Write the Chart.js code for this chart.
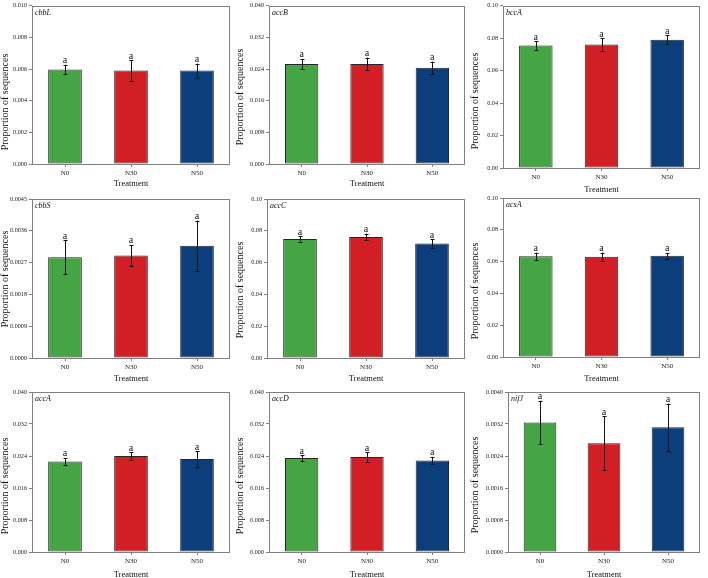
<!DOCTYPE html>
<html>
<head>
<meta charset="utf-8">
<script src="https://cdn.jsdelivr.net/npm/chart.js@4.4.0/dist/chart.umd.min.js"></script>
<style>
  html, body { margin: 0; padding: 0; background: #fff; overflow: hidden; }
  #wrap { position: relative; width: 708px; height: 578px; }
  #wrap canvas { position: absolute; }
</style>
</head>
<body>
<div id="wrap"></div>
<script>
// --- data ---
const treatments = ['N0', 'N30', 'N50'];
const barColors = ['#45a545', '#d21e25', '#0b3e7b'];
const letters = ['a', 'a', 'a'];

const cbbLMean = [0.00597, 0.00591, 0.00590];
const cbbLErr  = [0.00030, 0.00065, 0.00044];
const accBMean = [0.0253, 0.0253, 0.0243];
const accBErr  = [0.00125, 0.0016, 0.0016];
const bccAMean = [0.0755, 0.0761, 0.0790];
const bccAErr  = [0.0026, 0.0040, 0.0028];
const cbbSMean = [0.00285, 0.00290, 0.00318];
const cbbSErr  = [0.00048, 0.00030, 0.00071];
const accCMean = [0.0748, 0.0761, 0.0720];
const accCErr  = [0.0017, 0.0022, 0.0026];
const acsAMean = [0.0633, 0.0630, 0.0637];
const acsAErr  = [0.0023, 0.0027, 0.0018];
const accAMean = [0.02265, 0.0240, 0.02325];
const accAErr  = [0.00088, 0.00095, 0.00195];
const accDMean = [0.0235, 0.02375, 0.0229];
const accDErr  = [0.0007, 0.00125, 0.0009];
const nifJMean = [0.00324, 0.00272, 0.00312];
const nifJErr  = [0.00054, 0.00068, 0.00059];

const geneNames = ['cbbL', 'accB', 'bccA', 'cbbS', 'accC', 'acsA', 'accA', 'accD', 'nifJ'];
const geneMeans = [cbbLMean, accBMean, bccAMean, cbbSMean, accCMean, acsAMean, accAMean, accDMean, nifJMean];
const geneErrs  = [cbbLErr, accBErr, bccAErr, cbbSErr, accCErr, acsAErr, accAErr, accDErr, nifJErr];

// y axis ticks
const yMaxes    = [0.010, 0.040, 0.10, 0.0045, 0.10, 0.10, 0.040, 0.040, 0.0040];
const ySteps    = [0.002, 0.008, 0.02, 0.0009, 0.02, 0.02, 0.008, 0.008, 0.0008];
const yDecimals = [3, 3, 2, 4, 2, 2, 3, 3, 4];

// --- panel placement (canvas box + wanted plot area, page px) ---
const panelBoxes = [
  { left: 0,   top: 0,   width: 235, L: 32,  T: 5,   R: 230, B: 164, tx: 184, ty: 102 },
  { left: 235, top: 0,   width: 235, L: 269, T: 5,   R: 465, B: 164, tx: 184, ty: 97 },
  { left: 470, top: 0,   width: 238, L: 503, T: 5,   R: 700, B: 168, tx: 190, ty: 101 },
  { left: 0,   top: 192, width: 235, L: 32,  T: 199, R: 230, B: 358, tx: 379, ty: 279 },
  { left: 235, top: 192, width: 235, L: 267, T: 199, R: 465, B: 358, tx: 379, ty: 290 },
  { left: 470, top: 192, width: 238, L: 503, T: 198, R: 700, B: 357, tx: 379, ty: 291 },
  { left: 0,   top: 385, width: 235, L: 32,  T: 392, R: 230, B: 552, tx: 575, ty: 486 },
  { left: 235, top: 385, width: 235, L: 269, T: 392, R: 465, B: 552, tx: 575, ty: 486 },
  { left: 470, top: 385, width: 238, L: 508, T: 392, R: 700, B: 552, tx: 575, ty: 485 }
];

const SERIF = "'Liberation Serif', 'DejaVu Serif', serif";
const FRAME = '#808080';

// error bars, letters, frame, gene name and y title
function makeExtras(idx, box) {
  return {
    id: 'extras' + idx,
    afterDatasetsDraw(chart) {
      const ctx = chart.ctx;
      const y = chart.scales.y;
      const area = chart.chartArea;
      const meta = chart.getDatasetMeta(0);
      const mean = geneMeans[idx];
      const err = geneErrs[idx];
      ctx.save();

      ctx.strokeStyle = FRAME;
      ctx.lineWidth = 1;
      ctx.strokeRect(Math.round(area.left) + 0.5, Math.round(area.top) + 0.5,
        Math.round(area.right - area.left) - 1, Math.round(area.bottom - area.top));

      meta.data.forEach((bar, i) => {
        const x = Math.round(bar.x) + 0.5;
        const hi = y.getPixelForValue(mean[i] + err[i]);
        const lo = y.getPixelForValue(mean[i] - err[i]);
        ctx.strokeStyle = '#111';
        ctx.lineWidth = 1;
        ctx.beginPath();
        ctx.moveTo(x, hi); ctx.lineTo(x, lo);
        ctx.moveTo(x - 2, Math.round(hi) + 0.5); ctx.lineTo(x + 2, Math.round(hi) + 0.5);
        ctx.moveTo(x - 2, Math.round(lo) + 0.5); ctx.lineTo(x + 2, Math.round(lo) + 0.5);
        ctx.stroke();

        ctx.fillStyle = '#111';
        ctx.font = '10px ' + SERIF;
        ctx.textAlign = 'center';
        ctx.textBaseline = 'alphabetic';
        ctx.fillText(letters[i], bar.x, hi - 1.5);
      });

      ctx.fillStyle = '#111';
      ctx.font = 'italic 8px ' + SERIF;
      ctx.textAlign = 'left';
      ctx.textBaseline = 'top';
      ctx.fillText(geneNames[idx], area.left + 3, area.top + 3);

      ctx.translate(5, box.ty - box.top);
      ctx.rotate(-Math.PI / 2);
      ctx.font = '10px ' + SERIF;
      ctx.textAlign = 'center';
      ctx.textBaseline = 'middle';
      ctx.fillText('Proportion of sequences', 0, 0);
      ctx.restore();
    }
  };
}

const wrap = document.getElementById('wrap');

panelBoxes.forEach((box, idx) => {
  const height = Math.round(box.tx + 7.1) - box.top;
  const canvas = document.createElement('canvas');
  canvas.width = box.width;
  canvas.height = height;
  canvas.style.left = box.left + 'px';
  canvas.style.top = box.top + 'px';
  canvas.style.width = box.width + 'px';
  canvas.style.height = height + 'px';
  wrap.appendChild(canvas);

  const dec = yDecimals[idx];
  new Chart(canvas, {
    type: 'bar',
    data: {
      labels: treatments,
      datasets: [{
        data: geneMeans[idx],
        backgroundColor: barColors,
        borderColor: '#262626',
        borderWidth: 1,
        borderSkipped: false,
        categoryPercentage: 1,
        barPercentage: 0.51
      }]
    },
    options: {
      responsive: false,
      animation: false,
      devicePixelRatio: 1,
      layout: {
        padding: { left: 0, top: box.T - box.top, right: box.left + box.width - box.R, bottom: 0 }
      },
      plugins: { legend: { display: false }, tooltip: { enabled: false } },
      scales: {
        x: {
          offset: true,
          grid: { display: true, drawOnChartArea: false, drawTicks: true, tickLength: 3, color: FRAME, offset: false },
          border: { display: false },
          ticks: { color: '#222', font: { family: SERIF, size: 7 }, padding: 2, maxRotation: 0 },
          title: { display: true, text: 'Treatment', color: '#111', font: { family: SERIF, size: 8.5 }, padding: { top: 0, bottom: 2 } },
          afterFit(scale) { scale.height = box.top + height - box.B; }
        },
        y: {
          min: 0,
          max: yMaxes[idx],
          grid: { display: true, drawOnChartArea: false, drawTicks: true, tickLength: 3, color: FRAME },
          border: { display: false },
          ticks: {
            stepSize: ySteps[idx],
            color: '#222',
            font: { family: SERIF, size: 6.2 },
            padding: 2,
            callback: v => Number(v).toFixed(dec)
          },
          afterFit(scale) { scale.width = box.L - box.left; }
        }
      }
    },
    plugins: [makeExtras(idx, box)]
  });
});
</script>
</body>
</html>
